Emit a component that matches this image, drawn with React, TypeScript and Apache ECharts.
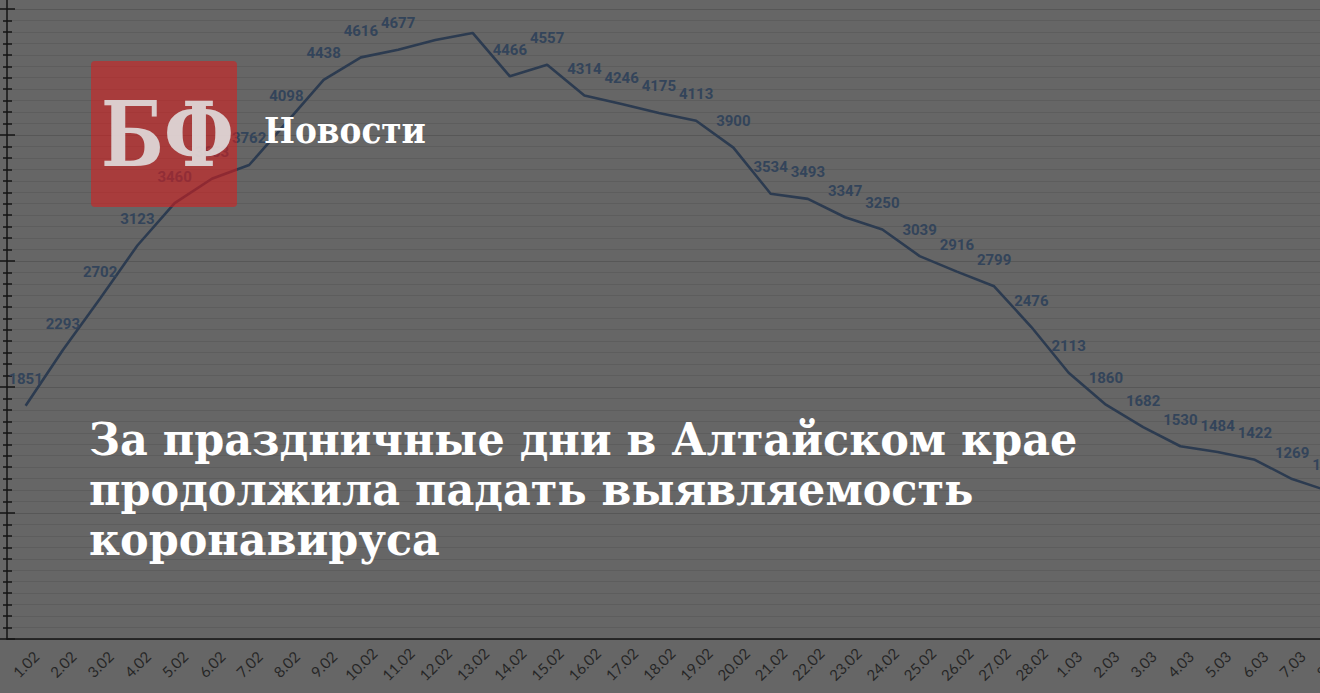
import React, { useEffect, useRef } from "react";
import * as echarts from "echarts";

const categories = [
  "1.02", "2.02", "3.02", "4.02", "5.02", "6.02", "7.02", "8.02", "9.02", "10.02",
  "11.02", "12.02", "13.02", "14.02", "15.02", "16.02", "17.02", "18.02", "19.02", "20.02",
  "21.02", "22.02", "23.02", "24.02", "25.02", "26.02", "27.02", "28.02",
  "1.03", "2.03", "3.03", "4.03", "5.03", "6.03", "7.03", "8.03",
];
const cases = [
  1851, 2293, 2702, 3123, 3460, 3653, 3762, 4098, 4438, 4616,
  4677, 4754, 4810, 4466, 4557, 4314, 4246, 4175, 4113, 3900,
  3534, 3493, 3347, 3250, 3039, 2916, 2799, 2476,
  2113, 1860, 1682, 1530, 1484, 1422, 1269, 1172,
];
const hiddenLabels = ["12.02", "13.02"];
const logoText = "БФ";
const sectionText = "Новости";
const titleLines = [
  "За праздничные дни в Алтайском крае",
  "продолжила падать выявляемость",
  "коронавируса",
];

export default function App() {
  const ref = useRef<HTMLDivElement>(null);
  useEffect(() => {
    if (!ref.current) return;
    const chart = echarts.init(ref.current, null, { renderer: "svg" });
    const band = 37.25;
    const yAxisBase = {
      type: "value" as const,
      min: 0,
      max: 6000,
      interval: 1000,
      axisLabel: { show: false },
    };
    chart.setOption({
      animation: false,
      backgroundColor: "#666666",
      grid: {
        left: 7,
        top: -117,
        width: band * categories.length,
        height: 756,
        containLabel: false,
        outerBoundsMode: "none",
      },
      xAxis: {
        type: "category",
        data: categories,
        boundaryGap: true,
        axisLine: { show: true, lineStyle: { color: "#151515", width: 1.5 } },
        axisTick: { show: false },
        axisLabel: {
          rotate: 45,
          interval: 0,
          margin: 25,
          align: "center",
          verticalAlign: "middle",
          color: "#262626",
          fontFamily: "Lato",
          fontSize: 15,
        },
      },
      yAxis: [
        {
          ...yAxisBase,
          axisLine: { show: true, lineStyle: { color: "#151515", width: 1.5 } },
          axisTick: { show: true, inside: false, length: 7, lineStyle: { color: "#151515", width: 1.5 } },
          minorTick: { show: true, splitNumber: 11, length: 4, lineStyle: { color: "#151515", width: 1.5 } },
          splitLine: { show: true, lineStyle: { color: "#575757", width: 1 } },
          minorSplitLine: { show: true, lineStyle: { color: "#5d5d5d", width: 1 } },
        },
        {
          ...yAxisBase,
          position: "left",
          axisLine: { show: false },
          axisTick: { show: true, inside: true, length: 8, lineStyle: { color: "#151515", width: 1.5 } },
          minorTick: { show: true, splitNumber: 11, length: 5, lineStyle: { color: "#151515", width: 1.5 } },
          splitLine: { show: false },
        },
      ],
      series: [
        {
          type: "line",
          yAxisIndex: 0,
          symbol: "circle",
          symbolSize: 0,
          showSymbol: true,
          itemStyle: { color: "#2c3b50" },
          lineStyle: { color: "#2c3b50", width: 2.6 },
          data: cases.map((v, i) => ({
            value: v,
            label: { show: !hiddenLabels.includes(categories[i]) },
          })),
          label: {
            show: true,
            position: "top",
            distance: 19,
            color: "#33445a",
            fontFamily: "Roboto",
            fontWeight: "bold",
            fontSize: 15,
          },
          labelLayout: { hideOverlap: false },
          z: 2,
        },
      ],
      graphic: [
        {
          type: "rect",
          z: 100,
          shape: { x: 91, y: 61, width: 146, height: 146, r: 4 },
          style: { fill: "rgba(220,27,27,0.56)" },
        },
        {
          type: "text",
          z: 101,
          x: 101,
          y: 134,
          scaleX: 0.82,
          style: {
            text: logoText,
            font: 'bold 90px "DejaVu Serif"',
            fill: "rgba(225,225,225,0.88)",
            verticalAlign: "middle",
          },
        },
        {
          type: "text",
          z: 101,
          x: 264,
          y: 130,
          scaleX: 0.91,
          style: {
            text: sectionText,
            font: 'bold 36px "DejaVu Serif"',
            fill: "#ffffff",
            verticalAlign: "middle",
          },
        },
        {
          type: "text",
          z: 101,
          x: 89,
          y: 414,
          scaleX: 0.955,
          style: {
            text: titleLines.join("\n"),
            font: 'bold 45px "DejaVu Serif"',
            lineHeight: 50,
            fill: "#ffffff",
            verticalAlign: "top",
          },
        },
      ],
    });
    return () => chart.dispose();
  }, []);
  return (
    <div
      ref={ref}
      style={{ position: "fixed", left: 0, top: 0, width: 1320, height: 693 }}
    />
  );
}
